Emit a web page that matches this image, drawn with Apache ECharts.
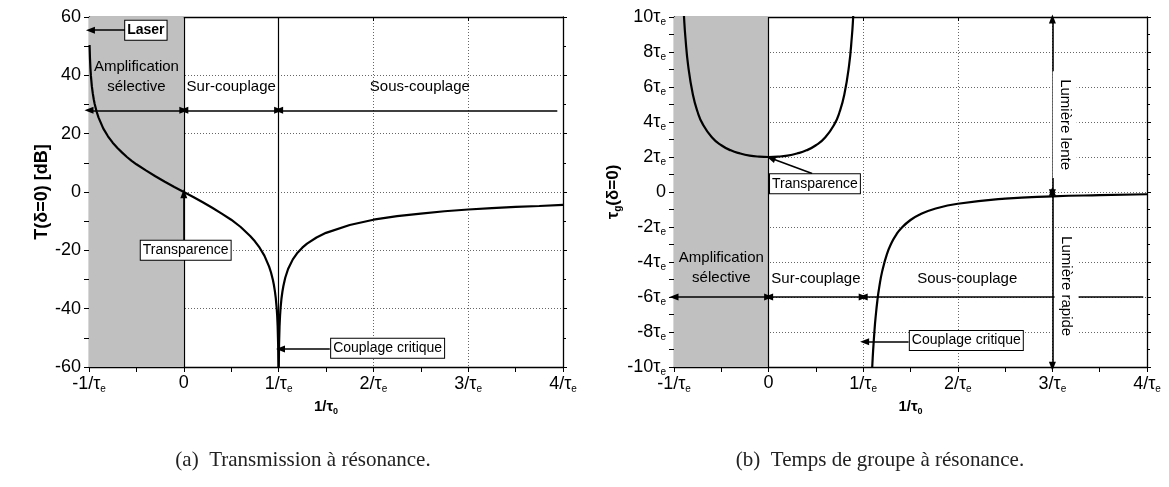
<!DOCTYPE html>
<html><head><meta charset="utf-8">
<script src="https://cdn.jsdelivr.net/npm/echarts@6/dist/echarts.min.js"></script>
<style>html,body{margin:0;padding:0;background:#fff}#c{width:1169px;height:487px}</style>
</head><body><div id="c"></div>
<script>
// ---- data ----
const xTickValues = [-1, 0, 1, 2, 3, 4];            // in units of 1/tau_e
const transX  = [-0.994,-0.99,-0.985,-0.98,-0.97,-0.96,-0.95,-0.94,-0.92,-0.9,-0.85,-0.8,-0.75,-0.7,-0.65,-0.6,-0.55,-0.5,-0.4,-0.3,-0.2,-0.1,0,0.1,0.2,0.3,0.4,0.5,0.6,0.7,0.75,0.8,0.85,0.9,0.92,0.94,0.95,0.96,0.97,0.98,0.985,0.99,0.995,0.998,0.9995,1.0005,1.002,1.005,1.01,1.015,1.02,1.03,1.04,1.05,1.07,1.1,1.15,1.2,1.25,1.3,1.4,1.5,1.75,2,2.25,2.5,2.75,3,3.25,3.5,3.75,4];
const transDB = [50.4,46.0,42.4,39.9,36.3,33.8,31.8,30.2,27.6,25.6,21.8,19.1,16.9,15.1,13.5,12.0,10.7,9.5,7.4,5.4,3.5,1.7,0,-1.7,-3.5,-5.4,-7.4,-9.5,-12.0,-15.1,-16.9,-19.1,-21.8,-25.6,-27.6,-30.2,-31.8,-33.8,-36.3,-39.9,-42.4,-46.0,-52.0,-60.0,-72,-72,-60.0,-52.0,-46.1,-42.6,-40.1,-36.6,-34.2,-32.3,-29.4,-26.4,-23.1,-20.8,-19.1,-17.7,-15.6,-14.0,-11.3,-9.5,-8.3,-7.4,-6.6,-6.0,-5.5,-5.1,-4.8,-4.4];
const delayUpX  = [-0.91,-0.894,-0.88,-0.85,-0.8,-0.75,-0.7,-0.6,-0.5,-0.4,-0.3,-0.2,-0.1,0,0.1,0.2,0.3,0.4,0.5,0.6,0.7,0.75,0.8,0.85,0.88,0.894,0.91];
const delayUpY  = [11.6,10.0,8.87,7.21,5.56,4.57,3.92,3.13,2.67,2.38,2.20,2.08,2.02,2.0,2.02,2.08,2.20,2.38,2.67,3.13,3.92,4.57,5.56,7.21,8.87,10.0,11.6];
const delayLowX = [1.09,1.095,1.1,1.105,1.12,1.13,1.15,1.17,1.2,1.25,1.3,1.35,1.4,1.5,1.6,1.75,2,2.5,3,3.5,4];
const delayLowY = [-10.6,-10.05,-9.52,-9.05,-7.86,-7.22,-6.20,-5.42,-4.55,-3.56,-2.90,-2.43,-2.08,-1.60,-1.28,-0.97,-0.67,-0.38,-0.25,-0.18,-0.13];
const captions = ['(a)  Transmission à résonance.', '(b)  Temps de groupe à résonance.'];

const F = 'Liberation Sans';
const TICK = 18;
const rich = {
  n: {fontFamily: F, fontSize: TICK, color: '#000'},
  s: {fontFamily: F, fontSize: 10, color: '#000', padding: [10, 0, 0, 0]}
};
const nameRich = {
  b: {fontFamily: F, fontSize: 15, fontWeight: 'bold', color: '#000'},
  s: {fontFamily: F, fontSize: 9, fontWeight: 'bold', color: '#000', padding: [9, 0, 0, 0]}
};
function xfmt(v) {
  if (v === 0) return '{n|0}';
  return '{n|' + v + '/τ}{s|e}';
}
function ytfmt(v) {
  if (v === 0) return '{n|0}';
  return '{n|' + v + 'τ}{s|e}';
}
function pairs(xs, ys) { return xs.map((x, i) => [x, ys[i]]); }

const axisLineStyle = {color: '#000', width: 1.3};
const gridLine = {show: true, lineStyle: {color: '#666', type: [1, 2], width: 1}};

function mainX(gi) {
  return {
    gridIndex: gi, type: 'value', min: -1, max: 4, interval: 1, position: 'bottom',
    axisLine: {onZero: false, lineStyle: axisLineStyle},
    axisTick: {length: 5, lineStyle: {color: '#000'}},
    minorTick: {show: true, splitNumber: 2, length: 5, lineStyle: {color: '#000'}},
    splitLine: gridLine,
    axisLabel: {formatter: xfmt, rich: rich, margin: 7},
    name: '{b|1/τ}{s|0}', nameLocation: 'middle', nameGap: 31, nameTextStyle: {rich: nameRich}
  };
}
function topX(gi) {
  return {
    gridIndex: gi, type: 'value', min: -1, max: 4, interval: 1, position: 'top',
    axisLine: {onZero: false, lineStyle: axisLineStyle},
    axisTick: {inside: true, length: 4, lineStyle: {color: '#000'}},
    minorTick: {show: false}, splitLine: {show: false}, axisLabel: {show: false}
  };
}
function rightY(gi, min, max, itv) {
  return {
    gridIndex: gi, type: 'value', min: min, max: max, interval: itv, position: 'right',
    axisLine: {onZero: false, lineStyle: axisLineStyle},
    axisTick: {length: 4, lineStyle: {color: '#000'}},
    minorTick: {show: true, splitNumber: 2, length: 3, lineStyle: {color: '#000'}},
    splitLine: {show: false}, axisLabel: {show: false}
  };
}

function arrow(a, b, s1, s2) {
  return [{coord: a, symbol: s1}, {coord: b, symbol: s2}];
}
const T = 'triangle', N = 'none';

function boxLabel(text, coord, bold) {
  return {
    coord: coord, symbol: 'rect', symbolSize: 1, itemStyle: {color: 'rgba(0,0,0,0)'},
    label: {show: true, position: 'inside', formatter: text, fontFamily: F, fontSize: 14,
      fontWeight: bold ? 'bold' : 'normal', color: '#000', backgroundColor: '#fff',
      borderColor: '#000', borderWidth: 1, padding: [2, 2, 1, 2], lineHeight: 16}
  };
}
function plainLabel(text, coord, opts) {
  return {
    coord: coord, symbol: 'rect', symbolSize: 1, itemStyle: {color: 'rgba(0,0,0,0)'},
    label: Object.assign({show: true, position: 'inside', formatter: text, fontFamily: F, fontSize: 15,
      color: '#000', lineHeight: 20, align: 'center'}, opts || {})
  };
}

const markLineBase = {
  silent: true, symbolSize: [7, 9], label: {show: false},
  lineStyle: {color: '#000', width: 1.6, type: 'solid'}, animation: false
};

const option = {
  animation: false,
  backgroundColor: '#fff',
  grid: [
    {left: 89, width: 474, top: 17, height: 350},
    {left: 674, width: 473, top: 17, height: 350}
  ],
  xAxis: [mainX(0), mainX(1), topX(0), topX(1)],
  yAxis: [
    {
      gridIndex: 0, type: 'value', min: -60, max: 60, interval: 20,
      axisLine: {onZero: false, lineStyle: axisLineStyle},
      axisTick: {length: 5, lineStyle: {color: '#000'}},
      minorTick: {show: true, splitNumber: 2, length: 5, lineStyle: {color: '#000'}},
      splitLine: gridLine,
      axisLabel: {fontFamily: F, fontSize: TICK, color: '#000', margin: 8},
      name: 'T(δ=0) [dB]', nameLocation: 'middle', nameGap: 36,
      nameTextStyle: {fontFamily: F, fontSize: 18, fontWeight: 'bold', color: '#000'}
    },
    {
      gridIndex: 1, type: 'value', min: -10, max: 10, interval: 2,
      axisLine: {onZero: false, lineStyle: axisLineStyle},
      axisTick: {length: 5, lineStyle: {color: '#000'}},
      minorTick: {show: true, splitNumber: 2, length: 5, lineStyle: {color: '#000'}},
      splitLine: gridLine,
      axisLabel: {formatter: ytfmt, rich: rich, margin: 8},
      name: '{b|τ}{s|g}{b|(δ=0)}', nameLocation: 'middle', nameGap: 46,
      nameTextStyle: {rich: {
        b: {fontFamily: F, fontSize: 17, fontWeight: 'bold', color: '#000'},
        s: {fontFamily: F, fontSize: 10, fontWeight: 'bold', color: '#000', padding: [10, 0, 0, 0]}
      }}
    },
    rightY(0, -60, 60, 20),
    rightY(1, -10, 10, 2)
  ],
  series: [
    // shaded region + vertical reference lines (left)
    {
      type: 'line', xAxisIndex: 0, yAxisIndex: 0, data: [], z: 1,
      markArea: {silent: true, itemStyle: {color: '#c0c0c0'}, data: [[{xAxis: -1}, {xAxis: 0}]]},
      markLine: Object.assign({}, markLineBase, {symbol: 'none', lineStyle: {color: '#000', width: 1.2, type: 'solid'},
        data: [{xAxis: 0}, {xAxis: 1}]})
    },
    // shaded region + vertical reference line (right)
    {
      type: 'line', xAxisIndex: 1, yAxisIndex: 1, data: [], z: 1,
      markArea: {silent: true, itemStyle: {color: '#c0c0c0'}, data: [[{xAxis: -1}, {xAxis: 0}]]},
      markLine: Object.assign({}, markLineBase, {symbol: 'none', lineStyle: {color: '#000', width: 1.2, type: 'solid'},
        data: [{xAxis: 0}]})
    },
    // transmission curve
    {
      type: 'line', xAxisIndex: 0, yAxisIndex: 0, data: pairs(transX, transDB), z: 5,
      showSymbol: false, smooth: false, clip: true, lineStyle: {color: '#000', width: 2.2},
      markLine: Object.assign({}, markLineBase, {data: [
        arrow([-1, 28], [0, 28], T, T),
        arrow([0, 28], [1, 28], T, T),
        arrow([1, 28], [3.94, 28], T, N),
        arrow([-0.62, 55.5], [-0.985, 55.5], N, T),
        arrow([0, -16.6], [0, -0.6], N, T),
        arrow([1.54, -53.8], [1.02, -53.8], N, T)
      ]}),
      markPoint: {silent: true, animation: false, data: [
        boxLabel('Laser', [-0.4, 55.5], true),
        plainLabel('Amplification\nsélective', [-0.5, 39.5]),
        plainLabel('Sur-couplage', [0.5, 36]),
        plainLabel('Sous-couplage', [2.49, 36]),
        boxLabel('Transparence', [0.02, -20]),
        boxLabel('Couplage critique', [2.15, -53.6])
      ]}
    },
    // group delay: upper branch
    {
      type: 'line', xAxisIndex: 1, yAxisIndex: 1, data: pairs(delayUpX, delayUpY), z: 5,
      showSymbol: false, smooth: true, clip: true, lineStyle: {color: '#000', width: 2.2}
    },
    // group delay: lower branch
    {
      type: 'line', xAxisIndex: 1, yAxisIndex: 1, data: pairs(delayLowX, delayLowY), z: 5,
      showSymbol: false, smooth: true, clip: true, lineStyle: {color: '#000', width: 2.2},
      markLine: Object.assign({}, markLineBase, {data: [
        arrow([-1, -6], [0, -6], T, T),
        arrow([0, -6], [1, -6], T, T),
        arrow([1, -6], [3.96, -6], T, N),
        arrow([3, -0.1], [3, 9.88], T, T),
        arrow([3, 0.05], [3, -9.95], T, T),
        arrow([0.46, 1.06], [0.025, 1.93], N, T),
        arrow([1.48, -8.56], [1.015, -8.56], N, T)
      ]}),
      markPoint: {silent: true, animation: false, data: [
        boxLabel('Transparence', [0.49, 0.47]),
        plainLabel('Amplification\nsélective', [-0.5, -4.35]),
        plainLabel('Sur-couplage', [0.5, -4.95]),
        plainLabel('Sous-couplage', [2.1, -4.95]),
        boxLabel('Couplage critique', [2.09, -8.48]),
        plainLabel('Lumière lente', [3.13, 3.85], {rotate: -90, backgroundColor: '#fff', padding: [2, 8], fontSize: 15}),
        plainLabel('Lumière rapide', [3.15, -5.38], {rotate: -90, backgroundColor: '#fff', padding: [2, 8], fontSize: 15})
      ]}
    }
  ],
  // captions under each panel, centred on its plot area
  graphic: captions.map((t, i) => ({
    type: 'text', silent: true, x: i === 0 ? 303 : 880, y: 460,
    style: {text: t, fill: '#222', font: '21px "Liberation Serif"', textAlign: 'center', textVerticalAlign: 'middle'}
  }))
};

const chart = echarts.init(document.getElementById('c'), null, {renderer: 'canvas'});
chart.setOption(option);
</script>
</body></html>
